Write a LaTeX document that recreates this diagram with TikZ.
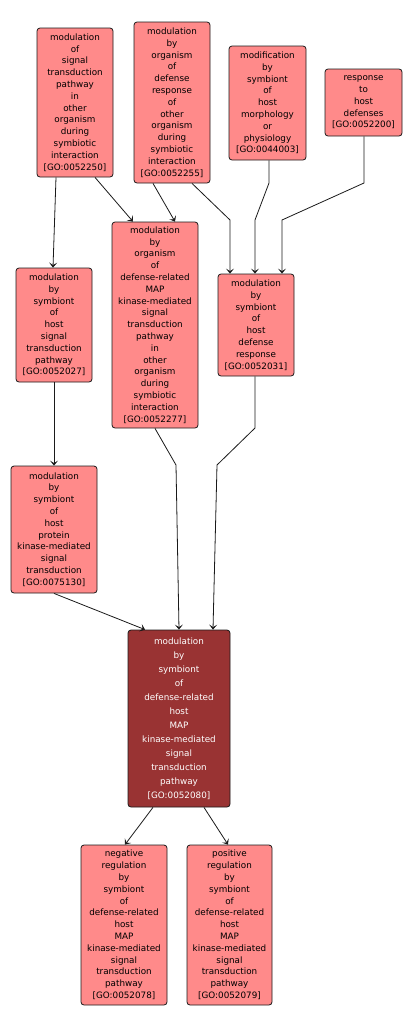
\documentclass[tikz,border=0pt]{standalone}
\usepackage{fontspec}
\setmainfont{DejaVu Sans}
\usetikzlibrary{arrows.meta}
\definecolor{goLight}{HTML}{FF8A8A}
\definecolor{goDark}{HTML}{993333}
\definecolor{goLine}{HTML}{1A1A1A}

\begin{document}
\begin{tikzpicture}[x=1pt, y=-1pt,
     term/.style={draw=goLine, rounded corners=3pt, fill=goLight, align=center, inner sep=0pt,
                  line width=0.8pt, text=black, font=\fontsize{8.8}{11.8}\selectfont},
     focus/.style={term, fill=goDark, text=white, font=\fontsize{8.8}{14}\selectfont},
     arr/.style={-{Stealth[length=5pt, width=8pt, inset=2.5pt]}, line width=0.8pt, draw=goLine}]
     \useasboundingbox[fill=white] (0,0) rectangle (413,1031);
     % top row
     \node[term, minimum width=76pt, minimum height=149pt] (sig) at (75,102.5)
          {modulation\\of\\signal\\transduction\\pathway\\in\\other\\organism\\during\\symbiotic\\interaction\\{[GO:0052250]}};
     \node[term, minimum width=76pt, minimum height=161pt] (def) at (172,102.5)
          {modulation\\by\\organism\\of\\defense\\response\\of\\other\\organism\\during\\symbiotic\\interaction\\{[GO:0052255]}};
     \node[term, minimum width=77pt, minimum height=114pt] (morph) at (267.5,103)
          {modification\\by\\symbiont\\of\\host\\morphology\\or\\physiology\\{[GO:0044003]}};
     \node[term, minimum width=77pt, minimum height=67pt] (resp) at (363.5,102.5)
          {response\\to\\host\\defenses\\{[GO:0052200]}};
     % middle row
     \node[term, minimum width=76pt, minimum height=114pt] (hsig) at (54,325)
          {modulation\\by\\symbiont\\of\\host\\signal\\transduction\\pathway\\{[GO:0052027]}};
     \node[term, minimum width=86pt, minimum height=206pt] (omap) at (155,325)
          {modulation\\by\\organism\\of\\defense-related\\MAP\\kinase-mediated\\signal\\transduction\\pathway\\in\\other\\organism\\during\\symbiotic\\interaction\\{[GO:0052277]}};
     \node[term, minimum width=76pt, minimum height=102pt] (hdef) at (256,325)
          {modulation\\by\\symbiont\\of\\host\\defense\\response\\{[GO:0052031]}};
     \node[term, minimum width=86pt, minimum height=127pt] (pkin) at (54,529.5)
          {modulation\\by\\symbiont\\of\\host\\protein\\kinase-mediated\\signal\\transduction\\{[GO:0075130]}};
     % focus term
     \node[focus, minimum width=102pt, minimum height=177pt] (main) at (179,718.5)
          {modulation\\by\\symbiont\\of\\defense-related\\host\\MAP\\kinase-mediated\\signal\\transduction\\pathway\\{[GO:0052080]}};
     % children
     \node[term, minimum width=86pt, minimum height=160pt] (neg) at (124,925)
          {negative\\regulation\\by\\symbiont\\of\\defense-related\\host\\MAP\\kinase-mediated\\signal\\transduction\\pathway\\{[GO:0052078]}};
     \node[term, minimum width=85pt, minimum height=160pt] (pos) at (229.5,925)
          {positive\\regulation\\by\\symbiont\\of\\defense-related\\host\\MAP\\kinase-mediated\\signal\\transduction\\pathway\\{[GO:0052079]}};
     % bends
     \coordinate (b1) at (230,220);
     \coordinate (c1) at (269,183); \coordinate (c2) at (255,220);
     \coordinate (d1) at (364,183); \coordinate (d2) at (282,220);
     \coordinate (f1) at (176,465);
     \coordinate (g1) at (255,428); \coordinate (g2) at (217,465);
     % edges
     \draw[arr] ([xshift=-19pt]sig.south) -- ([xshift=-1pt]hsig.north);
     \draw[arr] ([xshift=20pt]sig.south) -- ([xshift=-22pt]omap.north);
     \draw[arr] ([xshift=-19pt]def.south) -- ([xshift=20pt]omap.north);
     \draw[arr] ([xshift=20pt]def.south) -- (b1) -- ([xshift=-26pt]hdef.north);
     \draw[arr] ([xshift=1.5pt]morph.south) -- (c1) -- (c2) -- ([xshift=-1pt]hdef.north);
     \draw[arr] ([xshift=0.5pt]resp.south) -- (d1) -- (d2) -- ([xshift=26pt]hdef.north);
     \draw[arr] (hsig) -- (pkin);
     \draw[arr] (omap.south) -- (f1) -- (main.north);
     \draw[arr] ([xshift=-1pt]hdef.south) -- (g1) -- (g2) -- ([xshift=34pt]main.north);
     \draw[arr] (pkin.south) -- ([xshift=-34pt]main.north);
     \draw[arr] ([xshift=-26pt]main.south) -- ([xshift=1pt]neg.north);
     \draw[arr] ([xshift=25pt]main.south) -- ([xshift=-1.5pt]pos.north);
  \end{tikzpicture}
\end{document}
